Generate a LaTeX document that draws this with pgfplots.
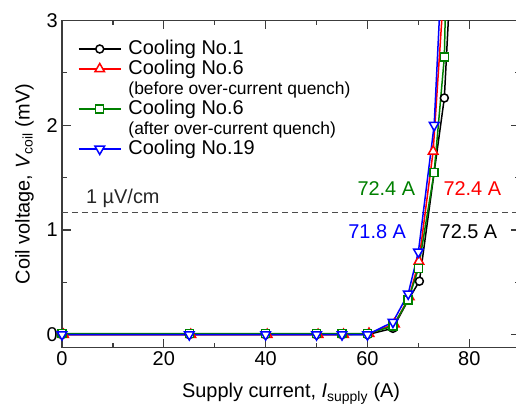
\documentclass[border=0pt]{standalone}
\usepackage{fontspec}
\setmainfont{Liberation Sans}
\usepackage{pgfplots}
\pgfplotsset{compat=1.18}
\definecolor{cgreen}{RGB}{0,128,0}
\definecolor{cred}{RGB}{255,0,0}
\definecolor{cblue}{RGB}{0,0,255}
\definecolor{axisgray}{RGB}{60,60,60}

\begin{document}
\begin{tikzpicture}
\begin{axis}[
  name=ax,
  scale only axis,
  width=458.2bp, height=327.2bp,
  xmin=0, xmax=90, ymin=-0.125, ymax=3,
  xtick={0,20,40,60,80}, ytick={0,1,2,3},
  minor xtick={10,30,50,70,90}, minor ytick={0.5,1.5,2.5},
  tick align=inside,
  major tick length=9bp, minor tick length=5bp,
  axis line style={line width=1.2bp, axisgray},
  every tick/.style={axisgray, line width=1.2bp},
  /pgf/number format/assume math mode=true,
  ticklabel style={font=\fontsize{20}{20}\selectfont},
  xticklabel style={inner sep=0pt, yshift=-4bp},
  yticklabel style={inner sep=0pt, xshift=-4bp},
  xlabel={Supply current, \textit{I}\textsubscript{supply} (A)},
  ylabel={Coil voltage, \textit{V}\textsubscript{coil} (mV)},
  label style={font=\fontsize{20}{24}\selectfont},
  xlabel style={at={(axis description cs:0.5,-0.1537)}, anchor=base},
  ylabel style={at={(axis description cs:-0.0709,0.5)}, anchor=base, rotate=0},
  every axis plot/.append style={line width=1.5bp},
  legend image code/.code={%
    \draw[mark repeat=2,mark phase=2,#1] plot coordinates {(0bp,0bp) (21bp,0bp) (42bp,0bp)};},
  legend cell align=left,
  legend style={at={(0.0349,0.9435)}, anchor=north west, draw=none, fill=none,
    inner sep=0pt, outer sep=0pt, column sep=7bp, row sep=0pt,
    font=\fontsize{20}{20}\selectfont,
    nodes={inner sep=0pt, text height=15.5bp, text depth=4.5bp}},
]

% threshold 1 uV/cm
\addplot[forget plot, line width=1bp, black!70, dash pattern=on 6bp off 4bp]
  coordinates {(0,1.17) (90,1.17)};

% Cooling No.1
\addplot[forget plot, black, mark=*, mark size=4bp, mark options={fill=white, solid}]
  coordinates {(0,0) (25,0) (40,0) (50,0) (55,0) (60,0) (65,0.06) (68,0.33)
               (70.2,0.51) (73.1,1.55) (75.1,2.26) (76.3,3.4)};
% Cooling No.6, before over-current quench
\addplot[forget plot, cred, mark=triangle*, mark size=5.5bp, mark options={fill=white, solid}]
  coordinates {(0.3,0) (25.3,0) (40.3,0) (50.3,0) (55.3,0) (60.3,0.01) (65.3,0.1) (68.2,0.36)
               (70.1,0.7) (72.9,1.75) (75.0,3.3)};
% Cooling No.6, after over-current quench
\addplot[forget plot, cgreen, mark=square*, mark size=4bp, mark options={fill=white, solid}]
  coordinates {(0,0.01) (25,0.01) (40,0.01) (50,0.01) (55,0.01) (60,0.01) (65,0.08) (68,0.33)
               (70,0.63) (73.1,1.55) (75.1,2.65) (75.4,3.3)};
% Cooling No.19
\addplot[forget plot, cblue, mark=triangle*, mark size=5.5bp, mark options={fill=white, solid, rotate=180}]
  coordinates {(0,0) (25,0) (40,0) (50,0) (55,0) (60,0) (65,0.12) (68,0.39)
               (70,0.79) (73.1,2.0) (74.4,3.3)};

\addlegendimage{black, line width=1.5bp, mark=*, mark size=4bp, mark options={fill=white}}
\addlegendentry{Cooling No.1}
\addlegendimage{cred, line width=1.5bp, mark=triangle*, mark size=5.5bp, mark options={fill=white}}
\addlegendentry{Cooling No.6}
\addlegendimage{empty legend}
\addlegendentry{\fontsize{17.5}{17.5}\selectfont(before over-current quench)}
\addlegendimage{cgreen, line width=1.5bp, mark=square*, mark size=4bp, mark options={fill=white}}
\addlegendentry{Cooling No.6}
\addlegendimage{empty legend}
\addlegendentry{\fontsize{17.5}{17.5}\selectfont(after over-current quench)}
\addlegendimage{cblue, line width=1.5bp, mark=triangle*, mark size=5.5bp, mark options={fill=white, rotate=180}}
\addlegendentry{Cooling No.19}

\node[anchor=base west, inner sep=0pt, font=\fontsize{20}{20}\selectfont, black!85] at (axis cs:4.7,1.25) {1 µV/cm};
\node[anchor=base east, inner sep=0pt, font=\fontsize{20}{20}\selectfont, cgreen] at (axis cs:69.4,1.328) {72.4 A};
\node[anchor=base west, inner sep=0pt, font=\fontsize{20}{20}\selectfont, cred] at (axis cs:74.9,1.328) {72.4 A};
\node[anchor=base east, inner sep=0pt, font=\fontsize{20}{20}\selectfont, cblue] at (axis cs:67.6,0.921) {71.8 A};
\node[anchor=base west, inner sep=0pt, font=\fontsize{20}{20}\selectfont, black] at (axis cs:74.15,0.921) {72.5 A};
\end{axis}
\pgfresetboundingbox
\path[use as bounding box] ([xshift=-62bp,yshift=-56.3bp]ax.south west) rectangle ([xshift=454bp,yshift=20.5bp]ax.north west);
\end{tikzpicture}
\end{document}
